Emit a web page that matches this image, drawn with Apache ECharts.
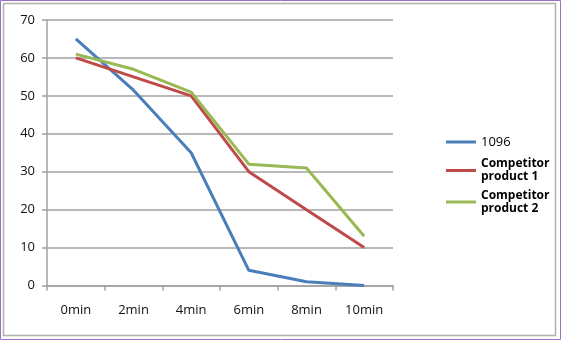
<!DOCTYPE html>
<html><head><meta charset="utf-8">
<script src="https://cdn.jsdelivr.net/npm/echarts@6/dist/echarts.min.js"></script>
<style>html,body{margin:0;padding:0;background:#fff}#c{width:561px;height:340px}</style>
</head><body><div id="c"></div>
<script>
var categories = ['0min','2min','4min','6min','8min','10min'];
var s1096 = [65, 51.5, 35, 4, 1, 0];
var comp1 = [60, 55, 50, 30, 20, 10];
var comp2 = [61, 57, 51, 32, 31, 13];
var yTicks = [0,10,20,30,40,50,60,70];

var chart = echarts.init(document.getElementById('c'));
var font = 'Open Sans';
chart.setOption({
  animation: false,
  graphic: [
    {type:'rect', shape:{x:0.5,y:0.5,width:560,height:339}, style:{fill:'none', stroke:'#9b6fc8', lineWidth:1}},
    {type:'rect', shape:{x:3.5,y:3.5,width:552,height:332}, style:{fill:'none', stroke:'#b0b0b0', lineWidth:1.5}}
  ],
  grid: {left: 47, right: 168, top: 20, bottom: 54.5},
  legend: {
    orient: 'vertical', left: 446, top: 132, padding: 0, itemWidth: 30, itemHeight: 3, itemGap: 5.5,
    icon: 'rect',
    textStyle: {fontFamily: font, fontSize: 12, color: '#000', lineHeight: 13},
    data: [
      {name: '1096', textStyle:{fontWeight:'normal', fontSize: 13, lineHeight: 20}},
      {name: 'Competitor\nproduct 1', textStyle:{fontWeight:'bold'}},
      {name: 'Competitor\nproduct 2', textStyle:{fontWeight:'bold'}}
    ]
  },
  xAxis: {
    type: 'category', data: categories, boundaryGap: true,
    axisLine: {lineStyle: {color: '#a0a0a0', width: 1.5}},
    axisTick: {show: true, length: 5, lineStyle: {color: '#a0a0a0', width: 1.5}},
    axisLabel: {fontFamily: font, fontSize: 13, color: '#111', margin: 18}
  },
  yAxis: {
    type: 'value', min: 0, max: 70, interval: 10,
    axisLine: {show: true, lineStyle: {color: '#a0a0a0', width: 1.5}},
    axisTick: {show: true, length: 5, lineStyle: {color: '#a0a0a0', width: 1.5}},
    splitLine: {lineStyle: {color: '#a0a0a0', width: 1.5}},
    axisLabel: {fontFamily: font, fontSize: 13, color: '#111', margin: 12,
      formatter: function(v){ return yTicks.indexOf(v) >= 0 ? String(v) : ''; }}
  },
  series: [
    {name: '1096', type: 'line', data: s1096, symbol: 'none', lineStyle:{width:3, color:'#4a7ebb'}, itemStyle:{color:'#4a7ebb'}},
    {name: 'Competitor\nproduct 1', type: 'line', data: comp1, symbol: 'none', lineStyle:{width:3, color:'#be4b48'}, itemStyle:{color:'#be4b48'}},
    {name: 'Competitor\nproduct 2', type: 'line', data: comp2, symbol: 'none', lineStyle:{width:3, color:'#98b954'}, itemStyle:{color:'#98b954'}}
  ]
});
</script></body></html>
